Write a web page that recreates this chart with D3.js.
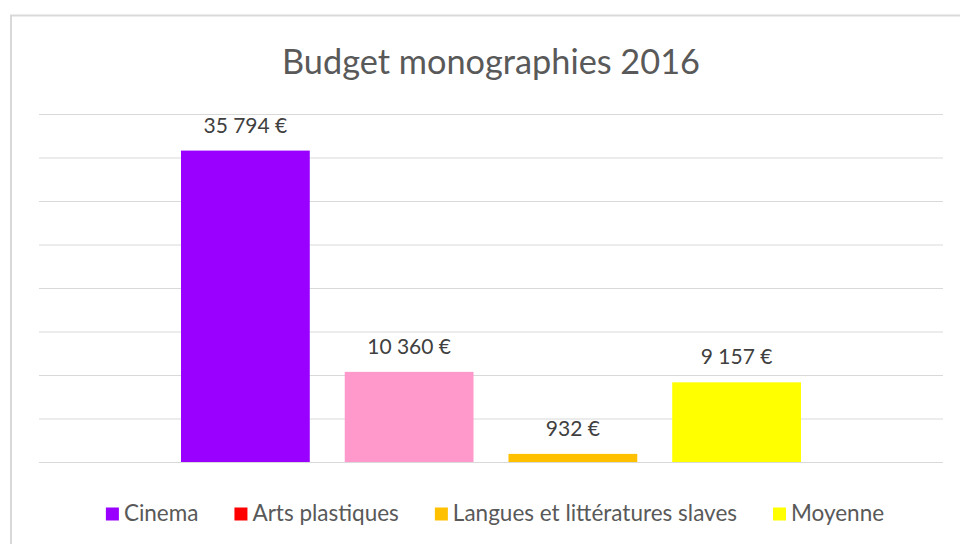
<!DOCTYPE html>
<html><head><meta charset="utf-8">
<script src="https://cdn.jsdelivr.net/npm/d3@7"></script>
<style>
html,body{margin:0;padding:0;background:#fff;}
svg{display:block;font-family:Lato, "Open Sans", sans-serif;}
</style></head>
<body><svg id="c" width="960" height="544"></svg>
<script>
const title = "Budget monographies 2016";
const categories = ["Cinema", "Arts plastiques", "Langues et littératures slaves", "Moyenne"];
const values = [35794, 10360, 932, 9157];
const barColors = ["#9900FF", "#FF99CC", "#FFC000", "#FFFF00"];
const legendColors = ["#9900FF", "#FF0000", "#FFC000", "#FFFF00"];
const yTicks = [0, 5000, 10000, 15000, 20000, 25000, 30000, 35000, 40000];

const svg = d3.select("#c");
const plot = {left: 39, right: 943, top: 114, bottom: 462};

// chart frame
svg.append("rect").attr("x", 11).attr("y", 15.5).attr("width", 1000).attr("height", 600)
  .attr("fill", "#fff").attr("stroke", "#d9d9d9").attr("stroke-width", 2);

const y = d3.scaleLinear().domain([0, 40000]).range([plot.bottom, plot.top]);
const x = d3.scaleBand().domain(categories).range([181, 801]).paddingInner(0.2135).paddingOuter(0);

// gridlines
const grid = svg.append("g").attr("transform", `translate(${plot.left},0)`)
  .call(d3.axisLeft(y).tickValues(yTicks).tickSize(-(plot.right - plot.left)).tickFormat(""));
grid.select(".domain").remove();
grid.selectAll(".tick line").attr("stroke", "#d9d9d9").attr("stroke-width", 1);

// bars
svg.append("g").selectAll("rect").data(values).join("rect")
  .attr("x", (d, i) => x(categories[i]))
  .attr("width", x.bandwidth())
  .attr("y", d => y(d))
  .attr("height", d => y(0) - y(d))
  .attr("fill", (d, i) => barColors[i]);

// labels
const loc = d3.formatLocale({decimal: ",", thousands: "\u202f", grouping: [3], currency: ["", "\u00a0€"]});
const fmt = loc.format("$,.0f");
svg.append("g").selectAll("text").data(values).join("text")
  .attr("x", (d, i) => x(categories[i]) + x.bandwidth() / 2)
  .attr("y", d => y(d) - 18)
  .attr("text-anchor", "middle")
  .attr("font-size", 21).attr("fill", "#404040")
  .text(d => fmt(d));

// title
svg.append("text").attr("x", 491).attr("y", 74).attr("text-anchor", "middle")
  .attr("font-size", 34.3).attr("fill", "#595959").text(title);

// legend
const lg = svg.append("g");
const items = lg.selectAll("g").data(categories).join("g");
items.append("rect").attr("width", 13).attr("height", 13).attr("y", -13)
  .attr("fill", (d, i) => legendColors[i]);
items.append("text").attr("x", 18).attr("y", 0).attr("font-size", 22.5).attr("fill", "#595959").text(d => d);
let cx = 0;
items.each(function() {
  const g = d3.select(this);
  g.attr("transform", `translate(${cx},0)`);
  cx += 18 + g.select("text").node().getComputedTextLength() + 36;
});
const totalW = cx - 36;
lg.attr("transform", `translate(${495 - totalW / 2},520.5)`);
</script></body></html>
